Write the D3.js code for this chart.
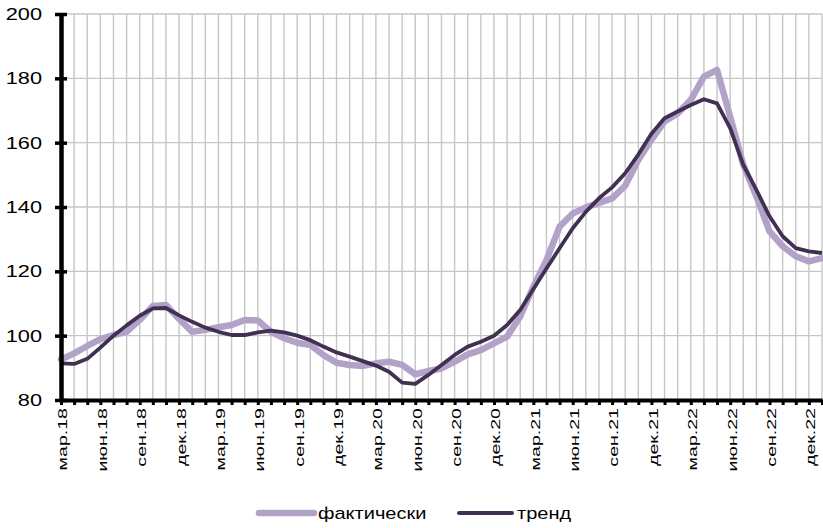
<!DOCTYPE html>
<html>
<head>
<meta charset="utf-8">
<script src="https://cdn.jsdelivr.net/npm/d3@7/dist/d3.min.js"></script>
<style>
  html, body { margin: 0; padding: 0; background: #fff; }
  svg { display: block; font-family: "Liberation Sans", Arial, sans-serif; }
</style>
</head>
<body>
<svg id="chart" width="823" height="528"></svg>
<script>
// Monthly index, March 2018 – January 2023
const categories = [
  'мар.18','апр.18','май.18','июн.18','июл.18','авг.18','сен.18','окт.18','ноя.18','дек.18',
  'янв.19','фев.19','мар.19','апр.19','май.19','июн.19','июл.19','авг.19','сен.19','окт.19','ноя.19','дек.19',
  'янв.20','фев.20','мар.20','апр.20','май.20','июн.20','июл.20','авг.20','сен.20','окт.20','ноя.20','дек.20',
  'янв.21','фев.21','мар.21','апр.21','май.21','июн.21','июл.21','авг.21','сен.21','окт.21','ноя.21','дек.21',
  'янв.22','фев.22','мар.22','апр.22','май.22','июн.22','июл.22','авг.22','сен.22','окт.22','ноя.22','дек.22',
  'янв.23'
];

const actual = [
  92.6, 94.5, 96.8, 98.9, 100.2, 101.2, 104.9, 109.2, 109.5, 105.2,
  101.2, 101.8, 102.6, 103.3, 104.9, 104.7, 101.2, 99.2, 97.8, 97.1, 94.0, 91.6,
  90.9, 90.6, 91.4, 91.9, 90.9, 88.0, 89.0, 89.8, 91.9, 94.2, 95.5, 97.6,
  99.7, 106.0, 115.2, 123.5, 133.9, 138.0, 139.9, 141.3, 142.7, 146.6, 154.6, 160.9,
  166.6, 169.1, 173.3, 180.5, 182.6, 168.1, 153.1, 143.3, 132.4, 127.8, 124.7, 123.1,
  124.1
];

const trend = [
  91.4, 91.2, 92.8, 96.3, 100.0, 103.2, 106.2, 108.5, 108.6, 106.3,
  104.3, 102.5, 101.2, 100.2, 100.2, 101.0, 101.6, 101.0, 100.0, 98.6, 96.6, 94.8,
  93.5, 92.1, 90.7, 88.8, 85.4, 85.0, 87.8, 90.9, 94.0, 96.6, 98.1, 100.0,
  103.3, 108.0, 114.5, 120.9, 127.2, 133.4, 138.5, 142.7, 146.1, 150.5, 156.3, 162.8,
  167.6, 169.7, 171.7, 173.5, 172.2, 164.5, 153.1, 145.3, 137.1, 130.9, 127.2, 126.2,
  125.7
];

const yTicks = [80, 100, 120, 140, 160, 180, 200];
const seriesNames = ['фактически', 'тренд'];
const seriesColors = ['#b3a2c7', '#403152'];

const svg = d3.select('#chart');
const plotL = 61, plotR = 822, plotT = 14, plotB = 400;
const TEXT_STRETCH = 1.36;

const x = d3.scalePoint().domain(categories).range([plotL, plotR]);
const y = d3.scaleLinear().domain([80, 200]).range([plotB, plotT]);

// Grid
const grid = svg.append('g').attr('stroke', '#c6c6c6').attr('stroke-width', 1.4);
grid.selectAll('line.v').data(categories.slice(1)).join('line')
  .attr('x1', d => x(d)).attr('x2', d => x(d))
  .attr('y1', plotT).attr('y2', plotB);
grid.selectAll('line.h').data(yTicks.slice(1)).join('line')
  .attr('x1', plotL).attr('x2', plotR)
  .attr('y1', d => y(d)).attr('y2', d => y(d));

// Series
const line = d3.line().x((d, i) => x(categories[i])).y(d => y(d));
svg.append('path').datum(actual)
  .attr('fill', 'none').attr('stroke', seriesColors[0]).attr('stroke-width', 6.5)
  .attr('stroke-linejoin', 'round').attr('stroke-linecap', 'round').attr('d', line);
svg.append('path').datum(trend)
  .attr('fill', 'none').attr('stroke', seriesColors[1]).attr('stroke-width', 3.8)
  .attr('stroke-linejoin', 'round').attr('stroke-linecap', 'butt').attr('d', line);

// X axis
const xAxis = svg.append('g').attr('transform', `translate(0,${plotB})`)
  .call(d3.axisBottom(x).tickSize(5).tickSizeOuter(0)
    .tickFormat((d, i) => i % 3 === 0 ? d : ''));
xAxis.select('.domain').attr('stroke', '#000').attr('stroke-width', 4);
xAxis.selectAll('.tick line').attr('stroke', '#000').attr('stroke-width', 3);
xAxis.selectAll('.tick text')
  .attr('fill', '#000').attr('font-size', 13.5)
  .attr('text-anchor', 'end').attr('dy', null).attr('y', null)
  .attr('dominant-baseline', 'central')
  .attr('transform', 'translate(1.5,8) rotate(-90) scale(1.45,1)');

// Y axis
const yAxis = svg.append('g').attr('transform', `translate(${plotL},0)`)
  .call(d3.axisLeft(y).tickValues(yTicks).tickSize(6).tickSizeOuter(0));
yAxis.select('.domain').attr('stroke', '#000').attr('stroke-width', 4.5);
yAxis.selectAll('.tick line').attr('stroke', '#000').attr('stroke-width', 3.5)
  .attr('x1', 6).attr('x2', -6);
yAxis.selectAll('.tick text')
  .attr('fill', '#000').attr('font-size', 16)
  .attr('x', null).attr('dy', '0.35em')
  .attr('transform', `translate(-19,0) scale(${TEXT_STRETCH},1)`);

// Legend
const legend = svg.append('g');
const legendItems = [
  { x1: 259, x2: 314, tx: 318, w: 6.5 },
  { x1: 459, x2: 512, tx: 517, w: 4 }
];
legendItems.forEach((it, i) => {
  legend.append('line')
    .attr('x1', it.x1).attr('x2', it.x2).attr('y1', 513).attr('y2', 513)
    .attr('stroke', seriesColors[i]).attr('stroke-width', it.w)
    .attr('stroke-linecap', 'round');
  legend.append('text')
    .attr('transform', `translate(${it.tx},519) scale(${TEXT_STRETCH * 0.92},1)`)
    .attr('font-size', 16).attr('dy', '0.35em').attr('fill', '#000')
    .attr('y', -6)
    .text(seriesNames[i]);
});
</script>
</body>
</html>
